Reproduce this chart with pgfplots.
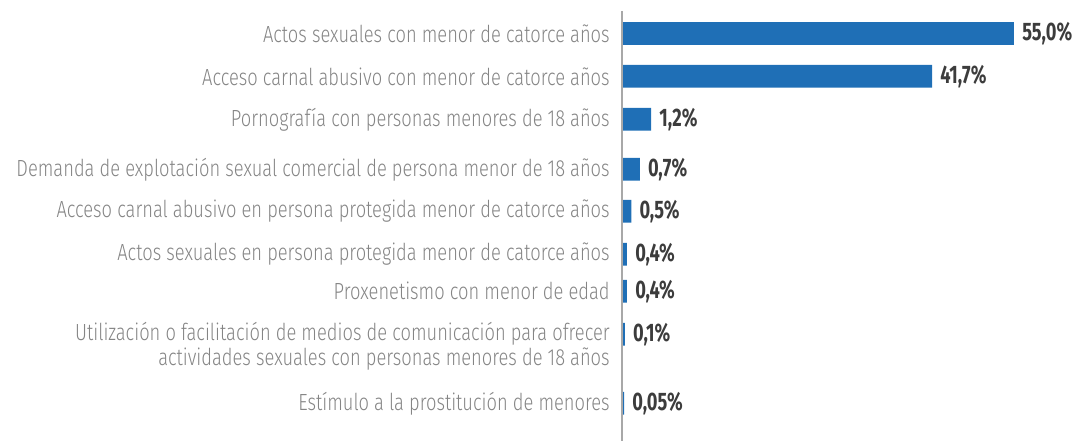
\documentclass[border=0pt]{standalone}
\usepackage{pgfplots}
\pgfplotsset{compat=1.18}
\usepackage{fontspec}
\setmainfont{Fira Sans}
\newfontfamily\labelfont{Fira Sans Light}[FakeStretch=0.785]
\newfontfamily\valfont{Fira Sans}[FakeStretch=0.72]
\definecolor{barblue}{HTML}{1F6FB6}
\definecolor{labgray}{HTML}{858585}
\definecolor{valgray}{HTML}{3C3C3C}
\definecolor{axgray}{HTML}{A8A8A8}
\begin{document}
\begin{tikzpicture}
\path[use as bounding box] (-466.5pt,0) rectangle (338.25pt,330.75pt);
\begin{axis}[
  scale only axis,
  width=338.25pt, height=330.75pt,
  xmin=0, xmax=63.28,
  ymin=0, ymax=441, y dir=reverse,
  axis line style={draw=none},
  xtick=\empty,
  ytick={33.5,76.3,119.3,169.3,211.3,254.3,291.3,334.2,359.5,403.3},
  yticklabels={Actos sexuales con menor de catorce años,
    Acceso carnal abusivo con menor de catorce años,
    Pornografía con personas menores de 18 años,
    Demanda de explotación sexual comercial de persona menor de 18 años,
    Acceso carnal abusivo en persona protegida menor de catorce años,
    Actos sexuales en persona protegida menor de catorce años,
    Proxenetismo con menor de edad\ ,
    Utilización o facilitación de medios de comunicación para ofrecer,
    actividades sexuales con personas menores de 18 años,
    Estímulo a la prostitución de menores},
  major tick length=0pt,
  yticklabel style={anchor=east, inner sep=0pt, xshift=-9pt, font=\labelfont\fontsize{17.5}{20}\selectfont, text=labgray},
  clip=false,
]
\addplot[xbar, bar width=22.7, fill=barblue, draw=none,
  point meta=explicit symbolic,
  nodes near coords,
  every node near coord/.append style={anchor=west, inner sep=0pt, xshift=6pt, font=\valfont\bfseries\fontsize{19}{22}\selectfont, text=valgray}]
  table[x=x, y=y, meta=lab] {
x y lab
55.0 33.5 55,0\%
43.5 76.3 41,7\%
4.1 119.3 1,2\%
2.5 169.3 0,7\%
1.3 211.3 0,5\%
0.7 254.3 0,4\%
0.7 291.3 0,4\%
0.4 334.2 0,1\%
0.3 403.3 0,05\%
};
\draw[axgray, line width=0.9pt] (axis cs:0,11) -- (axis cs:0,441);
\end{axis}
\end{tikzpicture}
\end{document}
